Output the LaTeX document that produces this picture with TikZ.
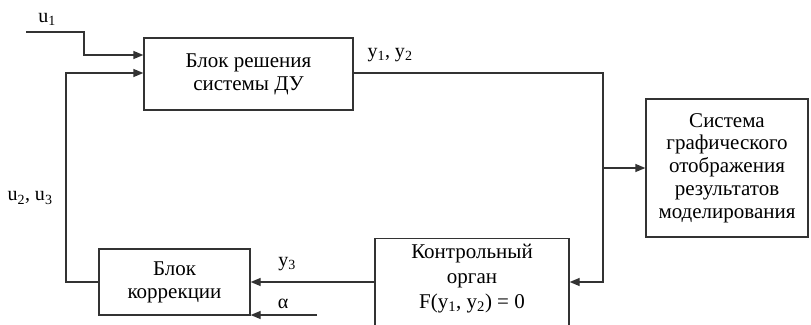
\documentclass[tikz,border=0pt]{standalone}
\usepackage{fontspec}
\setmainfont{Liberation Serif}
\usetikzlibrary{arrows.meta}
\begin{document}
\begin{tikzpicture}[x=1pt,y=-1pt,
  every node/.style={font=\fontsize{21}{22.8}\selectfont, inner sep=0pt},
  box/.style={draw=black!80, line width=1.3pt, align=center},
  wire/.style={draw=black!80, line width=1.3pt},
  arr/.style={wire, -{Triangle[length=10pt,width=8pt]}},
  lbl/.style={font=\fontsize{20}{22}\selectfont}]
\useasboundingbox (0,0) rectangle (811,324);
\clip (0,0) rectangle (811,324);
% blocks
\node[box, minimum width=209pt, minimum height=72pt] (b1) at (248.5,74) {Блок решения\\системы ДУ};
\node[box, minimum width=162pt, minimum height=138pt] (disp) at (727,168) {Система\\графического\\отображения\\результатов\\моделирования};
\node[box, minimum width=194pt, minimum height=110pt, anchor=north] (ctrl) at (472,238) {};
\node[align=center, anchor=north, font=\fontsize{21}{25}\selectfont] (ctrltext) at (472,244) {Контрольный\\орган\\F(y\textsubscript{1}, y\textsubscript{2}) = 0};
\node[box, minimum width=151pt, minimum height=66pt] (corr) at (174.5,282) {Блок\\коррекции};
% coordinates
\coordinate (u1s) at (26,32);
\coordinate (bus) at (603,73);
\coordinate (as) at (317,315);
% connectors
\draw[arr] (u1s) -- (84,32) |- (b1.west |- 0,55);
\draw[arr] (corr.west) -| (66,73) -- (b1.west |- 0,73);
\draw[arr] (b1.east |- bus) -- (bus) |- (ctrl.east |- 0,282);
\draw[arr] (bus |- disp.west) -- (disp.west);
\draw[arr] (ctrl.west |- 0,282) -- (corr.east |- 0,282);
\draw[arr] (as) -- (corr.east |- as);
% labels
\node[lbl] (lu1) at (47,19) {u\textsubscript{1}};
\node[lbl] (ly12) at (390,55) {y\textsubscript{1}, y\textsubscript{2}};
\node[lbl] (lu23) at (30,198) {u\textsubscript{2}, u\textsubscript{3}};
\node[lbl] (ly3) at (287,264) {y\textsubscript{3}};
\node[lbl] (lal) at (283,304) {α};
\end{tikzpicture}
\end{document}
